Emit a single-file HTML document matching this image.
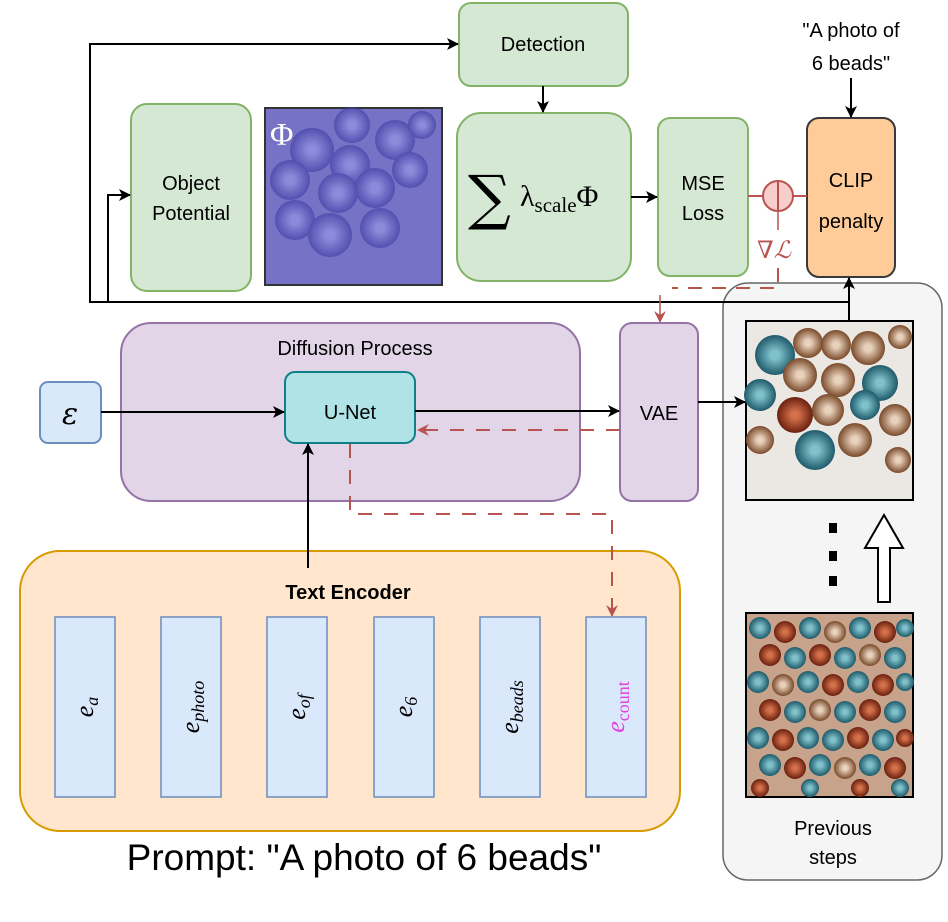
<!DOCTYPE html>
<html><head><meta charset="utf-8"><style>
body{margin:0;background:#fff}
svg{display:block;font-family:"Liberation Sans",sans-serif}
</style></head><body>
<svg width="948" height="922" viewBox="0 0 948 922">
<defs>
<marker id="ab" markerWidth="12" markerHeight="12" refX="11" refY="6" orient="auto" markerUnits="userSpaceOnUse"><path d="M0,0 L12,6 L0,12 L3,6 Z" fill="#000"/></marker>
<marker id="ar" markerWidth="12" markerHeight="12" refX="11" refY="6" orient="auto" markerUnits="userSpaceOnUse"><path d="M0,0 L12,6 L0,12 L4,6 Z" fill="#b85450"/></marker>
<radialGradient id="bt"><stop offset="0.2" stop-color="#7fc2cc"/><stop offset="1" stop-color="#1f5a6a"/></radialGradient>
<radialGradient id="bb"><stop offset="0.2" stop-color="#e8d2bc"/><stop offset="1" stop-color="#7a4a2a"/></radialGradient>
<radialGradient id="br"><stop offset="0.2" stop-color="#d4704a"/><stop offset="1" stop-color="#6a200f"/></radialGradient>
<radialGradient id="bv"><stop offset="0.2" stop-color="#9b9be8"/><stop offset="1" stop-color="#3a3aa0"/></radialGradient>
</defs>

<rect x="723" y="283" width="219" height="597" rx="25" fill="#f5f5f5" stroke="#666" stroke-width="1.5"/>

<rect x="459" y="3" width="169" height="83" rx="12" fill="#d5e8d4" stroke="#82b366" stroke-width="2"/>
<text x="543" y="51" font-size="20" text-anchor="middle">Detection</text>
<rect x="131" y="104" width="120" height="187" rx="16" fill="#d5e8d4" stroke="#82b366" stroke-width="2"/>
<text x="191" y="190" font-size="20" text-anchor="middle">Object</text>
<text x="191" y="220" font-size="20" text-anchor="middle">Potential</text>

<g>
<rect x="265" y="108" width="177" height="177" fill="#7672c6" stroke="#333" stroke-width="2"/>
<g opacity="0.6">
<circle cx="312" cy="150" r="22" fill="url(#bv)"/><circle cx="352" cy="125" r="18" fill="url(#bv)"/><circle cx="395" cy="140" r="20" fill="url(#bv)"/>
<circle cx="350" cy="165" r="20" fill="url(#bv)"/><circle cx="422" cy="125" r="14" fill="url(#bv)"/><circle cx="290" cy="180" r="20" fill="url(#bv)"/>
<circle cx="338" cy="193" r="20" fill="url(#bv)"/><circle cx="375" cy="188" r="20" fill="url(#bv)"/><circle cx="410" cy="170" r="18" fill="url(#bv)"/>
<circle cx="295" cy="220" r="20" fill="url(#bv)"/><circle cx="330" cy="235" r="22" fill="url(#bv)"/><circle cx="380" cy="228" r="20" fill="url(#bv)"/>
</g>
<text x="270" y="145" font-size="32" fill="#fff" font-family="Liberation Serif,serif">Φ</text>
</g>

<rect x="457" y="113" width="174" height="168" rx="24" fill="#d5e8d4" stroke="#82b366" stroke-width="2"/>
<text x="468" y="218" font-size="60" font-family="DejaVu Serif,serif">∑</text>
<text x="520" y="206" font-size="30" font-family="Liberation Serif,serif">λ<tspan font-size="21" dy="6">scale</tspan><tspan dy="-6">Φ</tspan></text>
<rect x="658" y="118" width="90" height="158" rx="12" fill="#d5e8d4" stroke="#82b366" stroke-width="2"/>
<text x="703" y="190" font-size="20" text-anchor="middle">MSE</text>
<text x="703" y="220" font-size="20" text-anchor="middle">Loss</text>
<rect x="807" y="118" width="88" height="159" rx="12" fill="#ffcc99" stroke="#36393d" stroke-width="2"/>
<text x="851" y="187" font-size="20" text-anchor="middle">CLIP</text>
<text x="851" y="228" font-size="20" text-anchor="middle">penalty</text>
<text x="851" y="37" font-size="20" text-anchor="middle">"A photo of</text>
<text x="851" y="70" font-size="20" text-anchor="middle">6 beads"</text>
<line x1="851" y1="78" x2="851" y2="117" stroke="#000" stroke-width="2" marker-end="url(#ab)"/>

<polyline points="849,302 90,302 90,44 458,44" fill="none" stroke="#000" stroke-width="2" marker-end="url(#ab)"/>
<polyline points="108,302 108,195 130,195" fill="none" stroke="#000" stroke-width="2" marker-end="url(#ab)"/>
<line x1="543" y1="86" x2="543" y2="112" stroke="#000" stroke-width="2" marker-end="url(#ab)"/>
<line x1="631" y1="197" x2="657" y2="197" stroke="#000" stroke-width="2" marker-end="url(#ab)"/>
<line x1="849" y1="322" x2="849" y2="278" stroke="#000" stroke-width="2" marker-end="url(#ab)"/>

<line x1="748" y1="196" x2="807" y2="196" stroke="#b85450" stroke-width="2"/>
<circle cx="778" cy="196" r="15" fill="#f8cecc" stroke="#b85450" stroke-width="2"/>
<line x1="778" y1="181" x2="778" y2="211" stroke="#b85450" stroke-width="2"/>
<text x="757" y="258" font-size="24" fill="#b85450" font-family="DejaVu Serif,serif" font-style="italic">∇ℒ</text>
<polyline points="778,211 778,230" fill="none" stroke="#b85450" stroke-width="1.5"/>
<polyline points="778,268 778,288 672,288" fill="none" stroke="#b85450" stroke-width="2" stroke-dasharray="14,10"/>
<line x1="660" y1="295" x2="660" y2="322" stroke="#b85450" stroke-width="1.5" marker-end="url(#ar)"/>

<rect x="121" y="323" width="459" height="178" rx="30" fill="#e1d5e7" stroke="#9673a6" stroke-width="2"/>
<text x="355" y="355" font-size="20" text-anchor="middle">Diffusion Process</text>
<rect x="620" y="323" width="78" height="178" rx="12" fill="#e1d5e7" stroke="#9673a6" stroke-width="2"/>
<text x="659" y="420" font-size="20" text-anchor="middle">VAE</text>
<rect x="285" y="372" width="130" height="71" rx="10" fill="#b0e3e6" stroke="#0e8088" stroke-width="2"/>
<text x="350" y="419" font-size="20" text-anchor="middle">U-Net</text>
<rect x="40" y="382" width="61" height="61" rx="8" fill="#dae8fc" stroke="#6c8ebf" stroke-width="2"/>
<text x="70" y="424" font-size="30" text-anchor="middle" font-family="DejaVu Serif,serif" font-style="italic">ε</text>
<line x1="101" y1="412" x2="284" y2="412" stroke="#000" stroke-width="2" marker-end="url(#ab)"/>
<line x1="415" y1="411" x2="619" y2="411" stroke="#000" stroke-width="2" marker-end="url(#ab)"/>
<line x1="698" y1="402" x2="745" y2="402" stroke="#000" stroke-width="2" marker-end="url(#ab)"/>
<line x1="620" y1="430" x2="418" y2="430" stroke="#b85450" stroke-width="2" stroke-dasharray="14,12" marker-end="url(#ar)"/>

<rect x="20" y="551" width="660" height="280" rx="40" fill="#ffe6cc" stroke="#d79b00" stroke-width="2"/>
<line x1="308" y1="568" x2="308" y2="444" stroke="#000" stroke-width="2" marker-end="url(#ab)"/>
<polyline points="350,444 350,514 612,514 612,614" fill="none" stroke="#b85450" stroke-width="2" stroke-dasharray="14,12"/>
<line x1="612" y1="598" x2="612" y2="616" stroke="#b85450" stroke-width="1.5" marker-end="url(#ar)"/>
<text x="348" y="599" font-size="20" font-weight="bold" text-anchor="middle">Text Encoder</text>
<g font-family="Liberation Serif,serif" font-style="italic" font-size="26">
<rect x="55" y="617" width="60" height="180" fill="#dae8fc" stroke="#6c8ebf" stroke-width="1.5"/>
<text transform="translate(93,707) rotate(-90)" text-anchor="middle">e<tspan font-size="18" dy="5">a</tspan></text>
<rect x="161" y="617" width="60" height="180" fill="#dae8fc" stroke="#6c8ebf" stroke-width="1.5"/>
<text transform="translate(199,707) rotate(-90)" text-anchor="middle">e<tspan font-size="18" dy="5">photo</tspan></text>
<rect x="267" y="617" width="60" height="180" fill="#dae8fc" stroke="#6c8ebf" stroke-width="1.5"/>
<text transform="translate(305,707) rotate(-90)" text-anchor="middle">e<tspan font-size="18" dy="5">of</tspan></text>
<rect x="374" y="617" width="60" height="180" fill="#dae8fc" stroke="#6c8ebf" stroke-width="1.5"/>
<text transform="translate(412,707) rotate(-90)" text-anchor="middle">e<tspan font-size="18" dy="5">6</tspan></text>
<rect x="480" y="617" width="60" height="180" fill="#dae8fc" stroke="#6c8ebf" stroke-width="1.5"/>
<text transform="translate(518,707) rotate(-90)" text-anchor="middle">e<tspan font-size="18" dy="5">beads</tspan></text>
<rect x="586" y="617" width="60" height="180" fill="#dae8fc" stroke="#6c8ebf" stroke-width="1.5"/>
<text transform="translate(624,707) rotate(-90)" text-anchor="middle" fill="#e040e0">e<tspan font-size="18" dy="5" font-style="normal">count</tspan></text>
</g>
<text x="364" y="870" font-size="37" text-anchor="middle">Prompt: "A photo of 6 beads"</text>

<g>
<rect x="746" y="321" width="167" height="179" fill="#ebe8e4" stroke="#000" stroke-width="2"/>
<circle cx="775" cy="355" r="20" fill="url(#bt)"/><circle cx="808" cy="343" r="15" fill="url(#bb)"/><circle cx="836" cy="345" r="15" fill="url(#bb)"/>
<circle cx="868" cy="348" r="17" fill="url(#bb)"/><circle cx="900" cy="337" r="12" fill="url(#bb)"/><circle cx="800" cy="375" r="17" fill="url(#bb)"/>
<circle cx="838" cy="380" r="17" fill="url(#bb)"/><circle cx="880" cy="383" r="18" fill="url(#bt)"/><circle cx="760" cy="395" r="16" fill="url(#bt)"/>
<circle cx="795" cy="415" r="18" fill="url(#br)"/><circle cx="828" cy="410" r="16" fill="url(#bb)"/><circle cx="865" cy="405" r="15" fill="url(#bt)"/>
<circle cx="895" cy="420" r="16" fill="url(#bb)"/><circle cx="760" cy="440" r="14" fill="url(#bb)"/><circle cx="815" cy="450" r="20" fill="url(#bt)"/>
<circle cx="855" cy="440" r="17" fill="url(#bb)"/><circle cx="898" cy="460" r="13" fill="url(#bb)"/>
</g>
<rect x="829" y="523" width="8" height="10" fill="#000"/><rect x="829" y="551" width="8" height="10" fill="#000"/><rect x="829" y="576" width="8" height="10" fill="#000"/>
<path d="M878,602 L878,548 L865,548 L884,515 L903,548 L890,548 L890,602 Z" fill="#fff" stroke="#000" stroke-width="2"/>
<g>
<rect x="746" y="613" width="167" height="184" fill="#c7a38c" stroke="#000" stroke-width="2"/>
<g>
<circle cx="760" cy="628" r="11" fill="url(#bt)"/><circle cx="785" cy="632" r="11" fill="url(#br)"/><circle cx="810" cy="628" r="11" fill="url(#bt)"/><circle cx="835" cy="632" r="11" fill="url(#bb)"/><circle cx="860" cy="628" r="11" fill="url(#bt)"/><circle cx="885" cy="632" r="11" fill="url(#br)"/><circle cx="905" cy="628" r="9" fill="url(#bt)"/>
<circle cx="770" cy="655" r="11" fill="url(#br)"/><circle cx="795" cy="658" r="11" fill="url(#bt)"/><circle cx="820" cy="655" r="11" fill="url(#br)"/><circle cx="845" cy="658" r="11" fill="url(#bt)"/><circle cx="870" cy="655" r="11" fill="url(#bb)"/><circle cx="895" cy="658" r="11" fill="url(#bt)"/>
<circle cx="758" cy="682" r="11" fill="url(#bt)"/><circle cx="783" cy="685" r="11" fill="url(#bb)"/><circle cx="808" cy="682" r="11" fill="url(#bt)"/><circle cx="833" cy="685" r="11" fill="url(#br)"/><circle cx="858" cy="682" r="11" fill="url(#bt)"/><circle cx="883" cy="685" r="11" fill="url(#br)"/><circle cx="905" cy="682" r="9" fill="url(#bt)"/>
<circle cx="770" cy="710" r="11" fill="url(#br)"/><circle cx="795" cy="712" r="11" fill="url(#bt)"/><circle cx="820" cy="710" r="11" fill="url(#bb)"/><circle cx="845" cy="712" r="11" fill="url(#bt)"/><circle cx="870" cy="710" r="11" fill="url(#br)"/><circle cx="895" cy="712" r="11" fill="url(#bt)"/>
<circle cx="758" cy="738" r="11" fill="url(#bt)"/><circle cx="783" cy="740" r="11" fill="url(#br)"/><circle cx="808" cy="738" r="11" fill="url(#bt)"/><circle cx="833" cy="740" r="11" fill="url(#bt)"/><circle cx="858" cy="738" r="11" fill="url(#br)"/><circle cx="883" cy="740" r="11" fill="url(#bt)"/><circle cx="905" cy="738" r="9" fill="url(#br)"/>
<circle cx="770" cy="765" r="11" fill="url(#bt)"/><circle cx="795" cy="768" r="11" fill="url(#br)"/><circle cx="820" cy="765" r="11" fill="url(#bt)"/><circle cx="845" cy="768" r="11" fill="url(#bb)"/><circle cx="870" cy="765" r="11" fill="url(#bt)"/><circle cx="895" cy="768" r="11" fill="url(#br)"/>
<circle cx="760" cy="788" r="9" fill="url(#br)"/><circle cx="810" cy="788" r="9" fill="url(#bt)"/><circle cx="860" cy="788" r="9" fill="url(#br)"/><circle cx="900" cy="788" r="9" fill="url(#bt)"/>
</g>
</g>
<text x="833" y="835" font-size="20" text-anchor="middle">Previous</text>
<text x="833" y="864" font-size="20" text-anchor="middle">steps</text>
</svg>
</body></html>
